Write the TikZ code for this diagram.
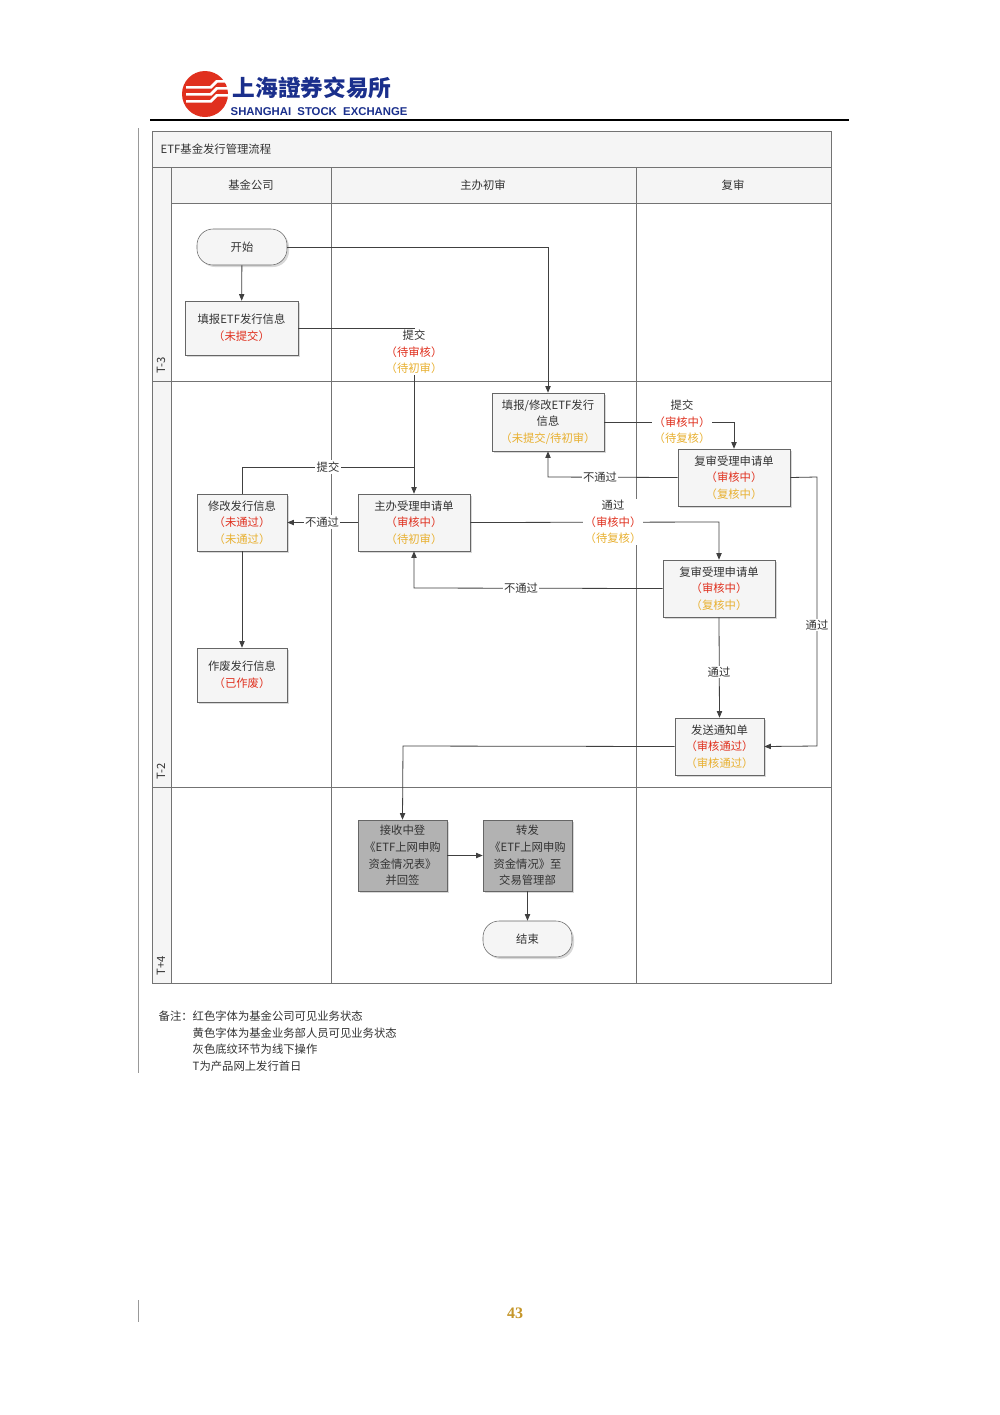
\documentclass[tikz,border=0pt]{standalone}
\usepackage{fontspec}
\setmainfont{Liberation Serif}
\newfontfamily\cjk{Noto Sans CJK SC}
\newfontfamily\cjktc{Noto Sans CJK TC}
\newfontfamily\lsans{Liberation Sans}
\usetikzlibrary{shadows,arrows.meta}
\definecolor{sred}{HTML}{E0301E}
\definecolor{syel}{HTML}{E8B030}
\definecolor{lblue}{HTML}{1A2F8C}
\newcommand{\rd}[1]{\textcolor{sred}{#1}}
\newcommand{\yl}[1]{\textcolor{syel}{#1}}
\begin{document}
\begin{tikzpicture}[x=0.75pt,y=-0.75pt,
  every node/.style={font=\cjk\fontsize{8.5}{12.5}\selectfont, text=black!80},
  box/.style={draw=black!60, fill=black!4, drop shadow={shadow xshift=1.5pt,shadow yshift=-1.5pt,fill=black!30}, align=center, inner sep=0pt},
  gbox/.style={box, fill=black!30},
  term/.style={box, rounded corners=12pt},
  ln/.style={draw=black!75, line width=0.6pt},
  ar/.style={ln, -{Triangle[length=5pt,width=4pt]}},
  lbl/.style={fill=white, inner sep=1pt, align=center},
  grid/.style={draw=black!55, line width=0.5pt}]
\useasboundingbox (0,0) rectangle (1000,1415);
\fill[white] (0,0) rectangle (1000,1415);
% logo
\fill[sred] (205,94) circle (23);
\foreach \yy in {86,93,100}{\fill[white] (186,\yy) -- (210,\yy) -- (216,\yy-6) -- (230,\yy-6) -- (230,\yy-3.5) -- (217.5,\yy-3.5) -- (211.5,\yy+2.5) -- (186,\yy+2.5) -- cycle;}
\node[anchor=west, text=lblue, font=\cjktc\bfseries\fontsize{17}{17}\selectfont] (logoc) at (228,88) {上海證券交易所};
\node[anchor=west, text=lblue, font=\lsans\bfseries\fontsize{8.5}{9}\selectfont] (logoe) at (226,112) {SHANGHAI\ \ STOCK\ \ EXCHANGE};
\draw[line width=1.2pt] (150,120) -- (849,120);
\draw[black!40] (138,128) -- (138,1073);
\draw[black!40] (138,1300) -- (138,1322);
% frame
\draw[grid, fill=black!4] (152,131) rectangle (831,167);
\draw[grid, fill=black!4] (171,167) rectangle (831,203);
\draw[grid, fill=black!4] (152,167) rectangle (171,983);
\draw[grid] (152,131) rectangle (831,983);
\draw[grid] (331,167) -- (331,983);
\draw[grid] (636,167) -- (636,983);
\draw[grid] (171,381) -- (831,381);
\draw[grid] (171,787) -- (831,787);
\draw[grid] (152,381) -- (171,381);
\draw[grid] (152,787) -- (171,787);
\node[anchor=west] (title) at (156,149) {ETF基金发行管理流程};
\node (h1) at (251,185) {基金公司};
\node (h2) at (483,185) {主办初审};
\node (h3) at (733,185) {复审};
\node[rotate=90, anchor=west] (r1) at (161,378) {T-3};
\node[rotate=90, anchor=west] (r2) at (161,784) {T-2};
\node[rotate=90, anchor=west] (r3) at (161,980) {T+4};
% nodes
\node[term, minimum width=90pt*0.75, minimum height=36pt*0.75] (start) at (242,247) {开始};
\node[box, minimum width=113*0.75pt, minimum height=54*0.75pt] (fill) at (241.5,328) {填报ETF发行信息\\\rd{（未提交）}};
\node[box, minimum width=112*0.75pt, minimum height=58*0.75pt] (mod) at (548,422) {填报/修改ETF发行\\信息\\\yl{（未提交/待初审）}};
\node[box, minimum width=112*0.75pt, minimum height=57*0.75pt] (rev1) at (734,477.5) {复审受理申请单\\\rd{（审核中）}\\\yl{（复核中）}};
\node[box, minimum width=112*0.75pt, minimum height=57*0.75pt] (main) at (414,522.5) {主办受理申请单\\\rd{（审核中）}\\\yl{（待初审）}};
\node[box, minimum width=90*0.75pt, minimum height=57*0.75pt] (fix) at (242,522.5) {修改发行信息\\\rd{（未通过）}\\\yl{（未通过）}};
\node[box, minimum width=112*0.75pt, minimum height=57*0.75pt] (rev2) at (719,588.5) {复审受理申请单\\\rd{（审核中）}\\\yl{（复核中）}};
\node[box, minimum width=90*0.75pt, minimum height=54*0.75pt] (void) at (242,675) {作废发行信息\\\rd{（已作废）}};
\node[box, minimum width=89*0.75pt, minimum height=57*0.75pt] (notify) at (719.5,746.5) {发送通知单\\\rd{（审核通过）}\\\yl{（审核通过）}};
\node[gbox, minimum width=89*0.75pt, minimum height=71*0.75pt] (recv) at (402.5,855.5) {接收中登\\《ETF上网申购\\资金情况表》\\并回签};
\node[gbox, minimum width=89*0.75pt, minimum height=71*0.75pt] (fwd) at (527.5,855.5) {转发\\《ETF上网申购\\资金情况》至\\交易管理部};
\node[term, minimum width=89*0.75pt, minimum height=36*0.75pt] (end) at (527.5,939) {结束};
% connectors
\draw[ar] (start) -- (fill);
\draw[ar] (start.east) -- (548,247) -- (mod.north);
\draw[ar] (fill.east) -- (414,328) -- (main.north);
\node[lbl] (l1) at (414,352) {提交\\\rd{（待审核）}\\\yl{（待初审）}};
\draw[ln] (fix.north) -- (242,467) -- (414,467);
\node[lbl] (l2) at (328,467) {提交};
\draw[ar] (main.west) -- (fix.east);
\node[lbl] (l3) at (322,522) {不通过};
\draw[ar] (fix.south) -- (void.north);
\draw[ar] (mod.east) -- (734,422) -- (rev1.north);
\node[lbl] (l4) at (682,422) {提交\\\rd{（审核中）}\\\yl{（待复核）}};
\draw[ar] (rev1.west) -- (548,477) -- (mod.south);
\node[lbl] (l5) at (600,477) {不通过};
\draw[ar] (rev1.east) -- (817,477) -- (817,746) -- (notify.east);
\node[lbl] (l6) at (817,625) {通过};
\draw[ar] (main.east) -- (719,522) -- (rev2.north);
\node[lbl] (l7) at (613,522) {通过\\\rd{（审核中）}\\\yl{（待复核）}};
\draw[ar] (rev2.west) -- (414,588) -- (main.south);
\node[lbl] (l8) at (521,588) {不通过};
\draw[ar] (rev2.south) -- (notify.north);
\node[lbl] (l9) at (719,672) {通过};
\draw[ar] (notify.west) -- (403,746) -- (recv.north);
\draw[ar] (recv.east) -- (fwd.west);
\draw[ar] (fwd.south) -- (end.north);
% notes
\node[anchor=north west, align=left] (note) at (154,1006) {备注：红色字体为基金公司可见业务状态\\\hphantom{备注：}黄色字体为基金业务部人员可见业务状态\\\hphantom{备注：}灰色底纹环节为线下操作\\\hphantom{备注：}T为产品网上发行首日};
\node[text=syel!85!black, font=\bfseries\fontsize{12}{12}\selectfont] (pg) at (515,1313) {43};
\end{tikzpicture}
\end{document}
